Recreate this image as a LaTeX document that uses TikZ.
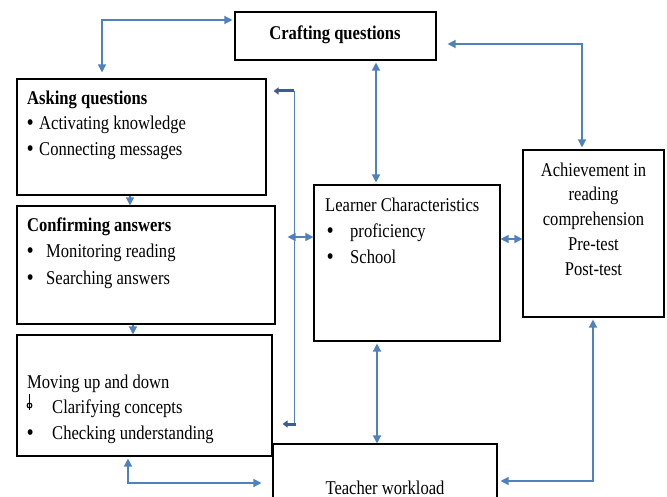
\documentclass[tikz,border=0pt]{standalone}
\usepackage{fontspec}
\setmainfont[FakeStretch=0.85]{Liberation Serif}
\usetikzlibrary{arrows.meta}
\definecolor{ablue}{HTML}{4F81BD}
\definecolor{dblue}{HTML}{3C5C92}
\begin{document}
\begin{tikzpicture}[x=1pt,y=-1pt,
  box/.style={draw=black,line width=1.1pt,inner sep=0pt,fill=white},
  conn/.style={draw=ablue,line width=1.3pt},
  fb/.style={draw=ablue,line width=1pt},
  thk/.style={draw=dblue,line width=3pt,-{Triangle[length=5pt,width=7pt]}},
  >={Triangle[length=8pt,width=8pt]},
  txt/.style={anchor=base west,inner sep=0pt,font=\fontsize{19.5}{22}\selectfont},
  ctxt/.style={anchor=base,inner sep=0pt,font=\fontsize{19.5}{22}\selectfont},
  bul/.style={anchor=base west,inner sep=0pt,font=\fontsize{21}{22}\selectfont\bfseries}]
\useasboundingbox (0,0) rectangle (667,497);
\clip (0,0) rectangle (667,497);
\fill[white] (0,0) rectangle (667,497);
% boxes
\node[box,minimum width=201pt,minimum height=48pt] (craft) at (335.5,36) {};
\node[box,minimum width=249pt,minimum height=116pt] (ask) at (141.5,137) {};
\node[box,minimum width=258pt,minimum height=118pt] (conf) at (146,265) {};
\node[box,minimum width=255pt,minimum height=121pt] (move) at (144.5,395.5) {};
\node[box,minimum width=186pt,minimum height=156pt] (learn) at (407,263) {};
\node[box,minimum width=141pt,minimum height=167pt] (ach) at (593.5,233.5) {};
\node[box,minimum width=224pt,minimum height=90pt] (teach) at (385,489) {};
% texts
\node[ctxt,font=\fontsize{19.5}{22}\selectfont\bfseries] (tcraft) at (335,40) {Crafting questions};
\node[txt,font=\fontsize{19.5}{22}\selectfont\bfseries] (task) at (27,105) {Asking questions};
\node[bul] (b1) at (27,130) {•};
\node[txt] (ta1) at (39,130) {Activating knowledge};
\node[bul] (b2) at (27,156) {•};
\node[txt] (ta2) at (39,156) {Connecting messages};
\node[txt,font=\fontsize{19.5}{22}\selectfont\bfseries] (tconf) at (27,232) {Confirming answers};
\node[bul] (b3) at (27,258) {•};
\node[txt] (tc1) at (46,258) {Monitoring reading};
\node[bul] (b4) at (27,285) {•};
\node[txt] (tc2) at (46,285) {Searching answers};
\node[txt] (tmove) at (27,388) {Moving up and down};
\draw[line width=1.1pt] (29.5,394) -- (29.5,410);
\draw[line width=1.1pt] (29.5,405.5) circle (2.4pt);
\node[txt] (tm1) at (52,413) {Clarifying concepts};
\node[bul] (b6) at (27,439) {•};
\node[txt] (tm2) at (52,439) {Checking understanding};
\node[txt] (tlearn) at (325,212) {Learner Characteristics};
\node[bul] (b7) at (327,238) {•};
\node[txt] (tl1) at (350,238) {proficiency};
\node[bul] (b8) at (327,264) {•};
\node[txt] (tl2) at (350,264) {School};
\node[ctxt] (th1) at (593.5,177) {Achievement in};
\node[ctxt] (th2) at (593.5,201) {reading};
\node[ctxt] (th3) at (593.5,226) {comprehension};
\node[ctxt] (th4) at (593.5,251) {Pre-test};
\node[ctxt] (th5) at (593.5,276) {Post-test};
\node[ctxt] (tteach) at (385,494) {Teacher workload};
% coordinates
\coordinate (c1) at (102,20);
\coordinate (c2) at (582,44);
\coordinate (c3) at (593,481);
\coordinate (c4) at (128,483);
\coordinate (fbt) at (294,91);
\coordinate (fbb) at (294,424);
\coordinate (yA) at (0,237);
\coordinate (yB) at (0,239);
\coordinate (xA) at (376,0);
\coordinate (xB) at (377,0);
\coordinate (xC) at (130,0);
\coordinate (xD) at (133,0);
% connectors
\draw[conn,<->,shorten <=6pt,shorten >=2pt] (ask.north -| c1) -- (c1) -- (craft.west |- c1);
\draw[conn,<->,shorten <=2pt,shorten >=2pt] (craft.south -| xA) -- (learn.north -| xA);
\draw[conn,<->,shorten <=11pt,shorten >=2pt] (craft.east |- c2) -- (c2) -- (ach.north -| c2);
\draw[conn,->] (ask.south -| xC) -- (conf.north -| xC);
\draw[conn,->] (conf.south -| xD) -- (move.north -| xD);
\draw[fb] (fbt) -- (fbb);
\draw[thk,shorten >=7pt] (fbt) -- (ask.east |- fbt);
\draw[thk,shorten <=-2pt,shorten >=10pt] (fbb) -- (move.east |- fbb);
\draw[conn,<->,shorten <=12pt] (conf.east |- yA) -- (learn.west |- yA);
\draw[conn,<->] (learn.east |- yB) -- (ach.west |- yB);
\draw[conn,<->,shorten <=2pt] (learn.south -| xB) -- (teach.north -| xB);
\draw[conn,<->,shorten <=2pt,shorten >=3pt] (ach.south -| c3) -- (c3) -- (teach.east |- c3);
\draw[conn,<->,shorten <=2pt,shorten >=11pt] (move.south -| c4) -- (c4) -- (teach.west |- c4);
\end{tikzpicture}
\end{document}
